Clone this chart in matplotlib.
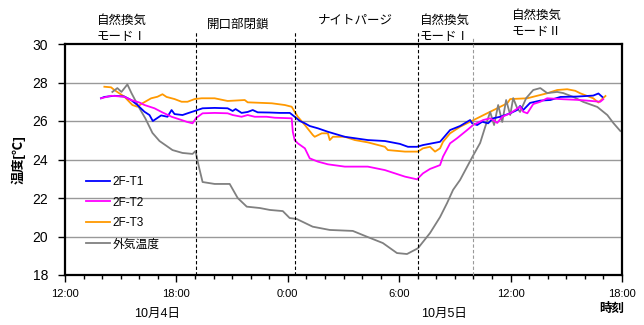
import matplotlib
matplotlib.use('Agg')
import matplotlib.pyplot as plt

# 時刻は 10/4 12:00 からの経過時間 [h]
t1 = [1.94, 2.12, 2.66, 3.2, 3.56, 3.9, 4.28, 4.55, 4.73, 4.98, 5.18, 5.52, 5.74, 5.9, 6.33, 6.6,
      6.98, 7.41, 8.06, 8.76, 9.03, 9.19, 9.51, 9.84, 10.11, 10.38, 11.03, 11.57, 12.11, 12.32,
      12.65, 12.92, 13.18, 13.62, 14.16, 15.07, 16.31, 17.23, 18.04, 18.47, 18.96, 19.28, 20.2,
      20.36, 20.74, 21.28, 21.82, 21.93, 22.2, 22.47, 22.79, 23.06, 23.44, 23.98, 24.35, 24.51,
      24.68, 25.05, 25.6, 26.14, 26.68, 27.59, 28.45, 28.73, 28.94]
T1 = [27.18, 27.25, 27.31, 27.27, 27.09, 26.83, 26.48, 26.31, 26.0, 26.16, 26.29, 26.22, 26.57,
      26.36, 26.31, 26.4, 26.52, 26.66, 26.68, 26.66, 26.52, 26.62, 26.42, 26.47, 26.57, 26.45,
      26.44, 26.42, 26.42, 26.26, 26.0, 25.88, 25.74, 25.62, 25.44, 25.18, 25.01, 24.96, 24.81,
      24.66, 24.66, 24.75, 24.92, 25.1, 25.53, 25.74, 26.05, 25.88, 25.79, 25.96, 25.88, 26.14,
      26.22, 26.4, 26.57, 26.78, 26.57, 26.94, 27.06, 27.09, 27.25, 27.27, 27.32, 27.43, 27.25]

t2 = [1.94, 2.48, 3.2, 3.56, 4.01, 4.28, 4.82, 5.2, 5.74, 6.28, 6.55, 6.87, 7.07, 7.41, 8.06,
      8.76, 9.03, 9.51, 9.84, 10.22, 10.86, 11.3, 12.21, 12.27, 12.37, 12.54, 12.92, 13.18, 13.62,
      14.16, 15.07, 16.31, 17.23, 18.31, 18.96, 19.28, 19.66, 20.2, 20.36, 20.74, 21.11, 21.66,
      21.98, 22.52, 22.9, 23.28, 23.55, 23.98, 24.51, 24.68, 24.9, 25.22, 25.6, 25.97, 26.84,
      27.75, 28.83, 28.99]
T2 = [27.18, 27.31, 27.26, 27.09, 26.96, 26.83, 26.66, 26.47, 26.22, 26.05, 25.96, 25.88, 26.16,
      26.4, 26.42, 26.4, 26.31, 26.22, 26.31, 26.22, 26.22, 26.17, 26.14, 25.44, 25.01, 24.84,
      24.58, 24.06, 23.89, 23.75, 23.63, 23.63, 23.45, 23.11, 22.97, 23.28, 23.51, 23.71, 24.15,
      24.84, 25.1, 25.53, 25.79, 26.05, 26.14, 25.9, 26.22, 26.4, 26.74, 26.48, 26.4, 26.88, 27.0,
      27.18, 27.13, 27.09, 27.0, 27.13]

t3 = [2.12, 2.48, 2.66, 3.2, 3.63, 3.9, 4.17, 4.64, 4.98, 5.25, 5.47, 5.9, 6.28, 6.6, 6.98, 7.36,
      8.06, 8.76, 9.68, 9.84, 11.14, 11.84, 12.21, 12.37, 12.54, 12.92, 13.35, 13.45, 13.83, 14.16,
      14.26, 14.43, 15.07, 15.61, 16.31, 17.23, 17.39, 18.31, 19.01, 19.28, 19.66, 19.93, 20.2,
      20.36, 20.74, 21.28, 21.82, 22.36, 22.9, 23.28, 23.82, 23.98, 24.9, 25.22, 25.97, 26.51,
      27.05, 27.48, 27.75, 28.45, 28.73, 29.11]
T3 = [27.78, 27.75, 27.61, 27.26, 26.83, 26.74, 26.92, 27.18, 27.26, 27.39, 27.25, 27.14, 27.0,
      27.0, 27.14, 27.18, 27.18, 27.04, 27.09, 26.97, 26.92, 26.83, 26.74, 26.48, 26.22, 25.79,
      25.27, 25.18, 25.36, 25.36, 25.01, 25.18, 25.18, 25.01, 24.89, 24.66, 24.49, 24.41, 24.41,
      24.58, 24.66, 24.41, 24.58, 24.92, 25.36, 25.7, 25.96, 26.22, 26.48, 26.66, 26.92, 27.14,
      27.18, 27.26, 27.44, 27.61, 27.65, 27.57, 27.44, 27.18, 26.96, 27.3]

t_out = [2.55, 2.82, 3.04, 3.36, 3.58, 4.0, 4.33, 4.71, 5.09, 5.79, 6.33, 6.87, 7.03, 7.19, 7.41,
         8.06, 8.87, 9.3, 9.79, 10.49, 11.03, 11.73, 12.1, 12.48, 13.34, 14.26, 15.5, 16.26, 17.12,
         17.88, 18.42, 19.01, 19.66, 20.2, 20.58, 20.9, 21.28, 21.91, 22.36, 22.63, 22.9, 23.11,
         23.33, 23.55, 23.76, 23.98, 24.14, 24.35, 24.51, 24.84, 25.22, 25.6, 25.97, 26.51, 26.84,
         27.38, 27.92, 28.67, 29.21, 29.53, 29.91]
T_out = [27.51, 27.71, 27.51, 27.9, 27.45, 26.68, 26.13, 25.38, 24.96, 24.49, 24.34, 24.29, 24.44,
         23.71, 22.83, 22.73, 22.73, 22.0, 21.55, 21.48, 21.38, 21.32, 20.96, 20.91, 20.51, 20.34,
         20.29, 19.99, 19.66, 19.14, 19.09, 19.39, 20.18, 21.01, 21.74, 22.42, 22.94, 24.08, 24.86,
         25.69, 26.47, 25.79, 26.83, 25.95, 27.09, 26.31, 27.19, 26.68, 26.47, 27.19, 27.61, 27.71,
         27.45, 27.51, 27.45, 27.25, 26.99, 26.73, 26.31, 25.9, 25.48]

x_ticks = [0, 6, 12, 18, 24, 30]
x_labels = ['12:00', '18:00', '0:00', '6:00', '12:00', '18:00']
mode_change = [7.07, 12.39, 19.03]   # 黒破線
mode_change2 = [22.0]                # 灰破線

fam = ['Liberation Sans', 'Noto Sans CJK JP', 'DejaVu Sans']
plt.rcParams['font.family'] = fam

fig = plt.figure(figsize=(6.44, 3.25), dpi=100)
W, H = 644, 325
ax = fig.add_axes([65 / W, (H - 275) / H, (622 - 65) / W, (275 - 44) / H])

for y in [20, 22, 24, 26, 28]:
    ax.axhline(y, color='#999999', lw=1.0, zorder=1)

ax.plot(t1, T1, color='#0000FF', lw=1.3, label='2F-T1', zorder=3)
ax.plot(t2, T2, color='#FF00FF', lw=1.3, label='2F-T2', zorder=3)
ax.plot(t3, T3, color='#FF9900', lw=1.3, label='2F-T3', zorder=2)
ax.plot(t_out, T_out, color='#808080', lw=1.3, label='外気温度', zorder=2)

for x in mode_change:
    ax.axvline(x, ymin=0, ymax=1.056, color='black', lw=0.8, ls=(0, (3, 2)), clip_on=False, zorder=4)
for x in mode_change2:
    ax.axvline(x, ymin=0, ymax=1.026, color='#999999', lw=0.8, ls=(0, (3, 2)), clip_on=False, zorder=4)

ax.set_xlim(0, 30)
ax.set_ylim(18, 30)
ax.set_yticks([18, 20, 22, 24, 26, 28, 30])
ax.set_xticks(x_ticks)
ax.set_xticklabels(x_labels, fontsize=8)
ax.set_xticks(range(0, 31), minor=True)
ax.tick_params(axis='y', labelsize=10, length=5, width=1, pad=7)
ax.tick_params(axis='x', which='major', length=5, width=1, pad=5)
ax.tick_params(axis='x', which='minor', length=3, width=1)
for s in ax.spines.values():
    s.set_linewidth(1.6)

ax.legend(loc='upper left', bbox_to_anchor=(0.03, 0.45), frameon=False, fontsize=8.5,
          handlelength=2.0, handletextpad=0.2, labelspacing=0.75, borderaxespad=0)

def px(x, y):
    return x / W, 1 - y / H

fig.text(*px(18, 160), '温度[℃]', rotation=90, fontsize=9.5, fontweight='bold', ha='center', va='center')
fig.text(*px(612, 309), '時刻', fontsize=9, fontweight='bold', ha='center', va='center')
fig.text(*px(157, 314), '10月4日', fontsize=9, ha='center', va='center')
fig.text(*px(444, 314), '10月5日', fontsize=9, ha='center', va='center')

fig.text(*px(97, 21), '自然換気', fontsize=9, ha='left', va='center')
fig.text(*px(97, 37), 'モードⅠ', fontsize=9, ha='left', va='center')
fig.text(*px(207, 25), '開口部閉鎖', fontsize=9, ha='left', va='center')
fig.text(*px(318, 21), 'ナイトパージ', fontsize=9, ha='left', va='center')
fig.text(*px(420, 21), '自然換気', fontsize=9, ha='left', va='center')
fig.text(*px(420, 37), 'モードⅠ', fontsize=9, ha='left', va='center')
fig.text(*px(512, 16), '自然換気', fontsize=9, ha='left', va='center')
fig.text(*px(512, 32), 'モードⅡ', fontsize=9, ha='left', va='center')

fig.savefig('out.png', dpi=100)
